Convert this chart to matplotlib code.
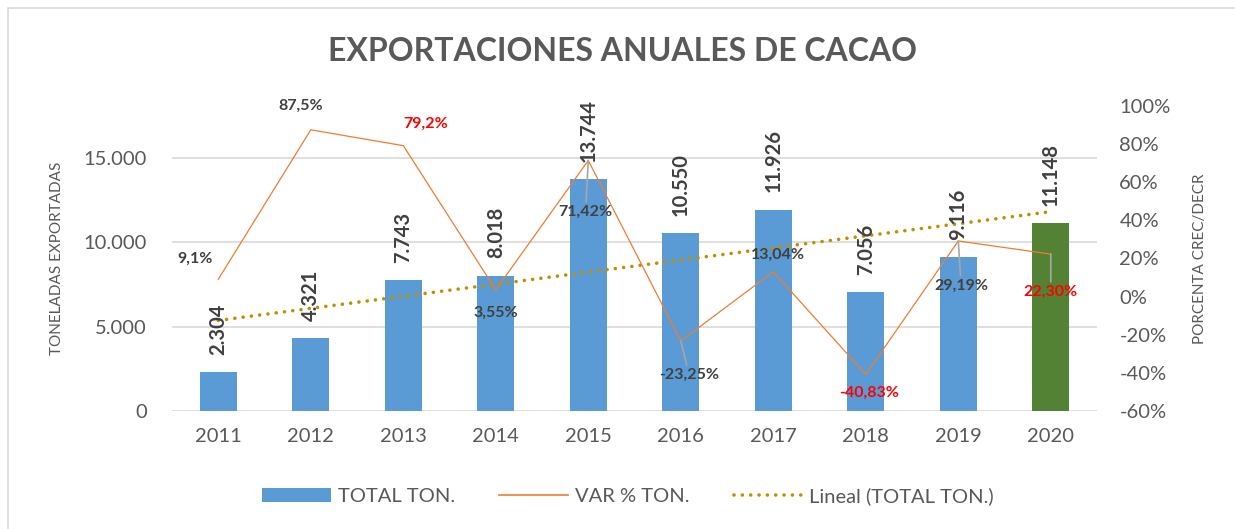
"""Exportaciones anuales de cacao: bars + variation line + linear trend."""

import matplotlib

matplotlib.use("Agg")
import matplotlib.pyplot as plt
import numpy as np
from matplotlib.lines import Line2D
from matplotlib.patches import Patch, Rectangle
from matplotlib.ticker import FuncFormatter, MultipleLocator

years = ["2011", "2012", "2013", "2014", "2015", "2016", "2017", "2018", "2019", "2020"]
total_ton = [2304, 4321, 7743, 8018, 13744, 10550, 11926, 7056, 9116, 11148]
var_pct = [9.1, 87.5, 79.2, 3.55, 71.42, -23.25, 13.04, -40.83, 29.19, 22.30]
var_decimals = [1, 1, 1, 2, 2, 2, 2, 2, 2, 2]
var_red = [False, False, True, False, False, False, False, True, False, True]
var_leader = [False, False, False, False, True, True, False, False, True, True]
# label offsets (points) relative to each line point
var_offsets = [(-16.5, 15), (-7, 17), (16, 16), (0, -16.5), (-2, -37),
               (6, -24.5), (3, 12), (2, -13), (2, -32), (0, -27)]

COLORS = {
    "bar": "#5B9BD5",
    "bar_last": "#548235",
    "line": "#ED7D31",
    "trend": "#BF9000",
    "grid": "#D9D9D9",
    "text": "#595959",
    "label": "#404040",
    "red": "#FF0000",
    "leader": "#A6A6A6",
}

plt.rcParams.update({
    "font.family": ["Lato", "DejaVu Sans"],
    "text.color": COLORS["text"],
    "axes.labelcolor": COLORS["text"],
    "xtick.color": COLORS["text"],
    "ytick.color": COLORS["text"],
})


def thousands(v, _pos=None):
    return f"{v:,.0f}".replace(",", ".")


fig = plt.figure(figsize=(12.35, 5.29), dpi=100)
ax = fig.add_axes([0.1393, 0.2231, 0.749, 0.5765])
ax2 = ax.twinx()

x = np.arange(len(years))
bar_colors = [COLORS["bar"]] * (len(years) - 1) + [COLORS["bar_last"]]
bars = ax.bar(x, total_ton, width=0.4, color=bar_colors, zorder=2)

# linear trend of the bar series
coef = np.polyfit(x, total_ton, 1)
ax.plot(x, np.polyval(coef, x), color=COLORS["trend"], lw=2.6,
        linestyle=(0, (0.01, 2.3)), dash_capstyle="round", zorder=3)

for xi, v in zip(x, total_ton):
    ax.annotate(thousands(v), (xi, v), xytext=(0, 12.5), textcoords="offset points",
                rotation=90, ha="center", va="bottom", fontsize=14.5,
                fontweight="bold", color=COLORS["label"], zorder=5)

ax.set_xlim(-0.5, len(years) - 0.5)
ax.set_ylim(0, 18080)
ax.yaxis.set_major_locator(MultipleLocator(5000))
ax.yaxis.set_major_formatter(FuncFormatter(thousands))
ax.set_xticks(x, years)
ax.grid(axis="y", color=COLORS["grid"], lw=1.2, zorder=0)
ax.set_axisbelow(True)
ax.tick_params(axis="both", length=0, labelsize=14.5)
ax.tick_params(axis="x", pad=12)
ax.tick_params(axis="y", pad=18)
ax.set_ylabel("TONELADAS EXPORTADAS", fontsize=11, labelpad=14)

ax2.plot(x, var_pct, color=COLORS["line"], lw=0.9, zorder=3)
ax2.set_ylim(-60, 100)
ax2.yaxis.set_major_locator(MultipleLocator(20))
ax2.yaxis.set_major_formatter(FuncFormatter(lambda v, _p: f"{v:.0f}%"))
ax2.tick_params(axis="y", length=0, labelsize=14.5, pad=16)
ax2.set_ylabel("PORCENTA CREC/DECR", fontsize=11, labelpad=16)

for i, v in enumerate(var_pct):
    txt = f"{v:.{var_decimals[i]}f}%".replace(".", ",")
    arrow = dict(arrowstyle="-", color=COLORS["leader"], lw=1.2, shrinkA=0, shrinkB=0) \
        if var_leader[i] else None
    ax2.annotate(txt, (x[i], v), xytext=var_offsets[i], textcoords="offset points",
                 ha="center", va="center", fontsize=11.5, fontweight="bold",
                 color=COLORS["red"] if var_red[i] else COLORS["label"],
                 arrowprops=arrow, zorder=6)

for a in (ax, ax2):
    for s in a.spines.values():
        s.set_visible(False)

fig.text(0.504, 0.902, "EXPORTACIONES ANUALES DE CACAO", ha="center", va="center",
         fontsize=23, fontweight="bold", color=COLORS["text"])

handles = [
    Patch(facecolor=COLORS["bar"], label="TOTAL TON."),
    Line2D([], [], color=COLORS["line"], lw=1.2, label="VAR % TON."),
    Line2D([], [], color=COLORS["trend"], lw=2.6, linestyle=(0, (0.01, 2.3)),
           dash_capstyle="round", label="Lineal (TOTAL TON.)"),
]
fig.legend(handles=handles, loc="center", bbox_to_anchor=(0.5085, 0.0624), ncol=3,
           frameon=False, fontsize=14.5, handlelength=3.4, handleheight=0.7,
           handletextpad=0.35, columnspacing=2.2)

# chart-area border (only the left and top edges fall inside the picture)
fig.add_artist(Rectangle((8 / 1235, -0.1), 1.2, 0.1 + 1 - 8 / 529, transform=fig.transFigure,
                         fill=False, edgecolor=COLORS["grid"], lw=1.2))

fig.savefig("out.png", dpi=100)
